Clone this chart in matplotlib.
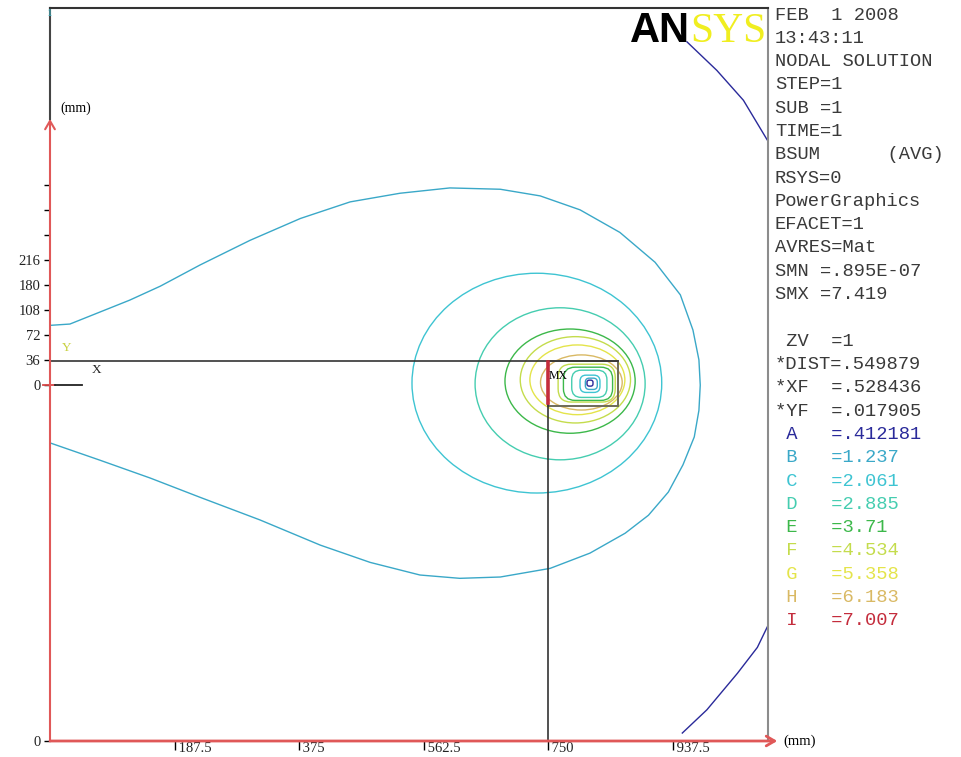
import matplotlib.pyplot as plt
from matplotlib.patches import Ellipse, FancyBboxPatch, Rectangle

# ANSYS nodal solution (BSUM), all lengths in mm
header_lines = ['FEB  1 2008', '13:43:11', 'NODAL SOLUTION', 'STEP=1', 'SUB =1',
                'TIME=1', 'BSUM      (AVG)', 'RSYS=0', 'PowerGraphics', 'EFACET=1',
                'AVRES=Mat', 'SMN =.895E-07', 'SMX =7.419', '',
                ' ZV  =1', '*DIST=.549879', '*XF  =.528436', '*YF  =.017905']
level_names = ['A', 'B', 'C', 'D', 'E', 'F', 'G', 'H', 'I']
level_values = ['.412181', '1.237', '2.061', '2.885', '3.71', '4.534', '5.358', '6.183', '7.007']
level_colors = ['#2a2a9a', '#3aa8c8', '#3ec4d2', '#45cdb0', '#3cb84a',
                '#c4dc4c', '#e4e44a', '#d9b964', '#c42c3c']

xtick_values = [187.5, 375, 562.5, 750, 937.5]
ytick_labels = ['0', '36', '72', '108', '180', '216', '', '', '']

# outer teardrop contour (level B)
tear_x = [0, 30, 75, 120, 166, 226, 301, 377, 452, 527, 602, 678, 738, 798, 858, 911, 949,
          968, 977, 979, 977, 970, 953, 931, 901, 866, 813, 753, 678, 617, 557, 482, 407,
          316, 226, 151, 75, 0]
tear_y = [90, 92, 110, 128, 149, 181, 218, 251, 276, 289, 297, 295, 285, 264, 230, 185, 136,
          83, 38, 0, -38, -78, -120, -161, -196, -223, -253, -276, -289, -291, -286, -267, -241,
          -203, -169, -140, -113, -87]

# level A branches in the right corners
a_top_x = [959, 1004, 1044, 1080]
a_top_y = [517, 474, 429, 369]
a_bot_x = [952, 989, 1035, 1065, 1080]
a_bot_y = [-524, -489, -434, -395, -364]

# closed rings around the magnet
ring_cx = [733, 768, 783, 791, 794, 800]
ring_cy = [3, 2, 6, 8, 8, 4]
ring_w = [376, 256, 196, 166, 143, 123]
ring_h = [331, 229, 157, 130, 105, 83]
ring_level = ['C', 'D', 'E', 'F', 'G', 'H']

# rings inside the magnet
inner_cx = [808, 810, 812, 813, 815, 813]
inner_cy = [3, 2, 2, 2, 2, 3]
inner_w = [86, 74, 53, 30, 18, 9]
inner_h = [57, 50, 41, 26, 17, 9]
inner_level = ['F', 'E', 'D', 'C', 'B', 'A']

magnet_x, magnet_y, magnet_w, magnet_h = 750, -32, 105, 68

serif = 'Liberation Serif'
mono = 'Liberation Mono'
col = dict(zip(level_names, level_colors))

fig = plt.figure(figsize=(9.61, 7.57), dpi=100)
ax = fig.add_axes([50 / 961, 16 / 757, 718 / 961, 733 / 757])
xlo, xhi, ylo, yhi = 0, 1081, -536, 568
ax.set_xlim(xlo, xhi)
ax.set_ylim(ylo, yhi)

# contours
ax.plot(tear_x, tear_y, color=col['B'], lw=1.0)
ax.plot(a_top_x, a_top_y, color=col['A'], lw=1.0)
ax.plot(a_bot_x, a_bot_y, color=col['A'], lw=1.0)
for cx, cy, w, h, lev in zip(ring_cx, ring_cy, ring_w, ring_h, ring_level):
    ax.add_patch(Ellipse((cx, cy), w, h, fill=False, edgecolor=col[lev], lw=1.0))
for cx, cy, w, h, lev in zip(inner_cx, inner_cy, inner_w, inner_h, inner_level):
    r = min(w, h) * 0.35
    ax.add_patch(FancyBboxPatch((cx - w / 2, cy - h / 2), w, h,
                                boxstyle=f'round,pad=0,rounding_size={r}',
                                fill=False, edgecolor=col[lev], lw=1.0))

# magnet outline, work plane lines and max marker
ax.add_patch(Rectangle((magnet_x, magnet_y), magnet_w, magnet_h, fill=False,
                       edgecolor='#6e6a58', lw=1.4))
ax.plot([xlo, magnet_x + magnet_w], [magnet_y + magnet_h] * 2, color='#333333', lw=1.2)
ax.plot([magnet_x, magnet_x], [ylo, magnet_y + magnet_h], color='#333333', lw=1.2)
ax.plot([magnet_x, magnet_x], [-27, 35], color=col['I'], lw=2.6)
ax.text(magnet_x + 1, 14, 'MX', fontsize=8.5, family=serif, va='center', ha='left')

# triad
ax.plot([-10, 8], [0, 0], color='#d84848', lw=1.3, clip_on=False)
ax.plot([8, 48], [0, 0], color='#222222', lw=1.3)
ax.text(18, 56, 'Y', fontsize=9.5, family=serif, color='#c8d040', va='center')
ax.text(63, 23, 'X', fontsize=9.5, family=serif, color='#222222', va='center')
ax.text(-4, 559, '1', fontsize=8, family=serif, color='#40c0d0', va='center', ha='left')

# axes with arrows
axis_red = '#e05858'
ax.annotate('', xy=(xhi + 14, ylo), xytext=(xlo, ylo), annotation_clip=False,
            arrowprops=dict(arrowstyle='->,head_length=0.6,head_width=0.35',
                            color=axis_red, lw=2.0, shrinkA=0, shrinkB=0))
ax.annotate('', xy=(0, 401), xytext=(0, ylo), annotation_clip=False,
            arrowprops=dict(arrowstyle='->,head_length=0.6,head_width=0.35',
                            color=axis_red, lw=1.5, shrinkA=0, shrinkB=0))
ax.plot([0, 0], [401, yhi], color='#444444', lw=1.5, clip_on=False)
ax.text(1104, ylo, '(mm)', fontsize=10.5, family=serif, va='center', ha='left',
        clip_on=False)
ax.text(15, 417, '(mm)', fontsize=10, family=serif, va='center', ha='left')

for s in ['left', 'bottom']:
    ax.spines[s].set_visible(False)
ax.spines['top'].set_color('#333333')
ax.spines['top'].set_linewidth(1.5)
ax.spines['right'].set_color('#8c8c8c')
ax.spines['right'].set_linewidth(1.5)

ystep = 37.6
ax.set_yticks([ylo] + [i * ystep for i in range(len(ytick_labels))],
              ['0'] + ytick_labels, family=serif)
ax.set_xticks(xtick_values, [' ' + f'{v:g}' for v in xtick_values], ha='left',
              family=serif)
ax.tick_params(axis='y', length=4, width=1, pad=3, labelsize=10.5, labelcolor='#222222')
ax.tick_params(axis='x', length=6.5, width=1, pad=-5.5, labelsize=10.5, labelcolor='#222222')

# ANSYS logo
ax.text(0.8914, 0.9536, 'AN', transform=ax.transAxes, fontsize=30, fontweight='bold',
        family='Liberation Sans', ha='right', va='baseline', color='black')
ax.text(0.8914, 0.9536, 'SYS', transform=ax.transAxes, fontsize=30,
        family=serif, ha='left', va='baseline', color='#f0ee20')

# right-hand information panel
rows = header_lines + [' ' + n + '   =' + v for n, v in zip(level_names, level_values)]
row_colors = ['#3a3a3a'] * len(header_lines) + level_colors
for i, (txt, c) in enumerate(zip(rows, row_colors)):
    y = 1 - (15 + 23.3 * i) / 757
    fig.text(775 / 961, y, txt, family=mono, fontsize=13.5, color=c,
             ha='left', va='center')

fig.savefig('out.png', dpi=100)
